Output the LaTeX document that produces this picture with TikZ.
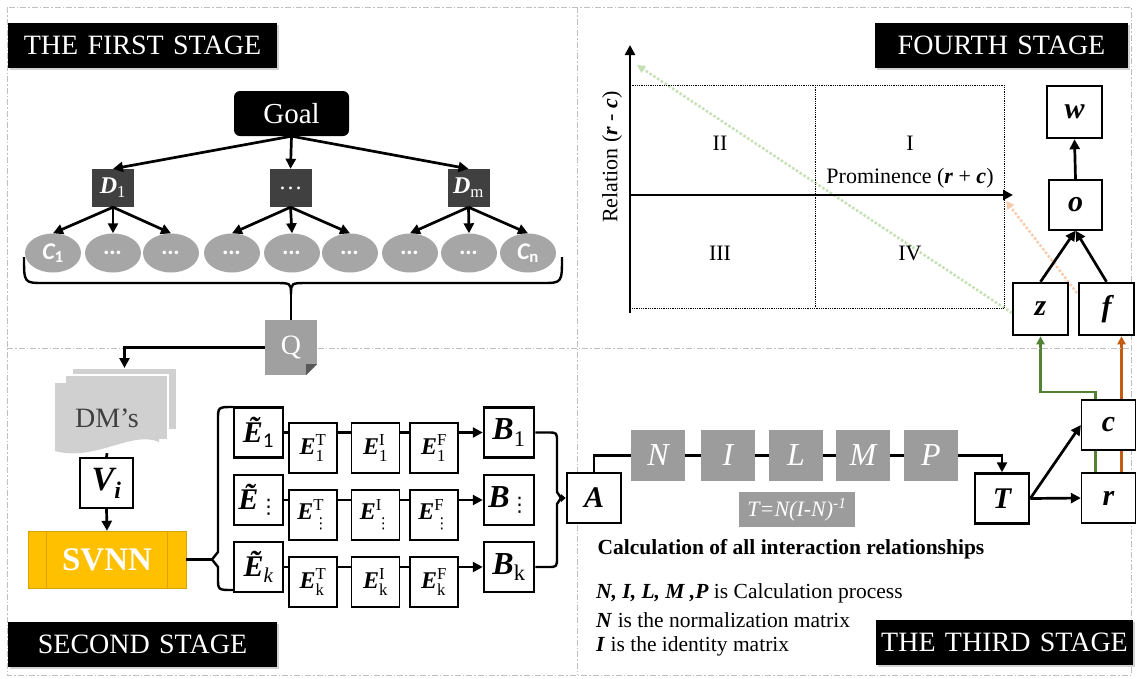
\documentclass[tikz,border=0pt]{standalone}
\usepackage{fontspec}
\setmainfont{Liberation Serif}
\newfontfamily\calib{Carlito}
\newfontfamily\dejavu{DejaVu Sans}
\usetikzlibrary{arrows.meta,shadows,backgrounds,shapes.geometric}
\newcommand\myfs[1]{\fontsize{#1}{#1}\selectfont}
\newcommand\mysub[1]{\textsubscript{#1}}
\newcommand\bi[1]{\textbf{\textit{#1}}}
\newcommand\vdsub{\mbox{\dejavu\myfs{20}\raisebox{-4pt}{⋮}}}
\newcommand\vdsubs{\mbox{\dejavu\myfs{15}\raisebox{-3pt}{⋮}}}
\definecolor{gold}{HTML}{FFC000}
\definecolor{golddark}{HTML}{D9A300}
\definecolor{dgray}{HTML}{404040}
\definecolor{egray}{HTML}{A6A6A6}
\definecolor{ngray}{HTML}{9C9C9C}
\definecolor{pgray}{HTML}{D0D0D0}
\definecolor{qgray}{HTML}{A0A0A0}
\definecolor{ggreen}{HTML}{548235}
\definecolor{gorange}{HTML}{C55A11}
\definecolor{lgreen}{HTML}{C5E0B4}
\definecolor{lorange}{HTML}{F8CBAD}
\definecolor{framec}{HTML}{BFBFBF}
\begin{document}
\begin{tikzpicture}[x=1pt,y=-1pt,
  frame/.style={framec, line width=1pt, dash pattern=on 6pt off 2pt on 1.5pt off 2pt},
  lbl/.style={fill=black, text=white, font={\myfs{28}}, inner xsep=0pt, inner ysep=0pt,
     minimum height=45pt, align=center, drop shadow={shadow xshift=2pt, shadow yshift=-2pt, opacity=0.35}},
  conn/.style={line width=2.7pt},
  arr/.style={conn, -{Triangle[length=10pt,width=10pt]}},
  box/.style={draw, fill=white, line width=1.3pt, inner sep=0pt, minimum width=54pt, minimum height=50pt, font={\myfs{30}\bfseries\itshape}},
  tbox/.style={box, line width=2.5pt},
  sbox/.style={box, minimum width=48pt, minimum height=50pt, font={\myfs{24}}},
  dnode/.style={fill=dgray, text=white, inner sep=0pt, minimum width=42pt, minimum height=38pt, font={\myfs{24}}},
  ell/.style={ellipse, fill=egray, text=white, inner sep=0pt, minimum width=56pt, minimum height=39pt, font={\calib\myfs{24}\bfseries\itshape}},
  nbox/.style={fill=ngray, text=white, inner sep=0pt, minimum width=54pt, minimum height=51pt, font={\myfs{32}\itshape}},
  txt/.style={font={\myfs{22}}, inner sep=0pt}
]
\useasboundingbox (0,0) rectangle (1137,678);
\begin{scope}[on background layer]
  \fill[white] (0,0) rectangle (1137,678);
\end{scope}

% frame
\draw[frame] (7,7) rectangle (1131,675);
\draw[frame] (7,348) -- (1131,348);
\draw[frame] (577,7) -- (577,675);

% stage labels
\node[lbl, text width=269pt] (L1) at (142.5,45.5) {THE FIRST STAGE};
\node[lbl, text width=253pt] (L4) at (1001.5,45.5) {FOURTH STAGE};
\node[lbl, text width=269pt] (L2) at (142.5,644) {SECOND STAGE};
\node[lbl, text width=257pt] (L3) at (1004.5,642.5) {THE THIRD STAGE};

% ---------- first stage ----------
\node[fill=black, rounded corners=6pt, text=white, minimum width=115pt, minimum height=45pt, font={\myfs{29}}] (goal) at (291.5,113.5) {Goal};
\node[dnode] (d1) at (113,188) {\bi{D}\mysub{1}};
\node[dnode] (dmid) at (290.5,188) {…};
\node[dnode] (dm) at (468.5,188) {\bi{D}\mysub{m}};
\draw[arr] (goal.south) -- (d1.north);
\draw[arr] (goal.south) -- (dmid.north);
\draw[arr] (goal.south) -- (dm.north);

\node[ell] (c1) at (53,253) {C\textsubscript{\upshape 1}};
\node[ell] (c2) at (113,253) {…};
\node[ell] (c3) at (171,253) {…};
\node[ell] (c4) at (232,253) {…};
\node[ell] (c5) at (292,253) {…};
\node[ell] (c6) at (350,253) {…};
\node[ell] (c7) at (410,253) {…};
\node[ell] (c8) at (469,253) {…};
\node[ell] (c9) at (528,253) {C\textsubscript{\upshape n}};
\draw[arr] (d1.south) -- (c1.north);
\draw[arr] (d1.south) -- (c2.north);
\draw[arr] (d1.south) -- (c3.north);
\draw[arr] (dmid.south) -- (c4.north);
\draw[arr] (dmid.south) -- (c5.north);
\draw[arr] (dmid.south) -- (c6.north);
\draw[arr] (dm.south) -- (c7.north);
\draw[arr] (dm.south) -- (c8.north);
\draw[arr] (dm.south) -- (c9.north);

% brace
\coordinate (btip) at (291,294);
\draw[conn, line width=2.4pt, line join=round] (24,257) .. controls (24,283) .. (44,283) -- (274,283) .. controls (291,283) .. (btip);
\draw[conn, line width=2.4pt, line join=round] (562,257) .. controls (562,283) .. (542,283) -- (308,283) .. controls (291,283) .. (btip);

% Q
\node[fill=qgray, text=white, minimum width=52pt, minimum height=55pt, inner sep=0pt, font={\myfs{28}}] (Q) at (291,347.5) {Q};
\fill[white] (317.5,375.5) -- (306,375.5) -- (317.5,364) -- cycle;
\fill[gray!70!black] (306,375) -- (317,364) -- (306,364) -- cycle;
\draw[conn] (btip) -- (Q.north);

% ---------- second stage ----------
\fill[pgray] (72,368) rectangle (177,430);
\draw[white, line width=1.5pt] (72,368) rectangle (177,430);
\fill[pgray] (65,375) rectangle (168,440);
\draw[white, line width=1.5pt] (65,375) rectangle (168,440);
\fill[pgray] (55,383) -- (159,383) -- (159,442) .. controls (132,430) and (95,462) .. (55,451) -- cycle;
\node[inner sep=0pt, minimum width=104pt, minimum height=70pt, text=dgray, font={\myfs{28}}] (dms) at (107,418) {DM’s};
\coordinate (dmtop) at (124.5,368);
\draw[arr] (Q.west) -| (dmtop);

\node[box, line width=1.5pt, minimum width=53pt, font={\myfs{34}\bfseries\itshape}] (vi) at (106.5,483) {V\textsubscript{i}};
\draw[conn] (dms.south) -- (vi.north);
\node[fill=gold, draw=golddark, minimum width=158pt, minimum height=57pt, inner sep=0pt, text=white, font={\myfs{33}\bfseries}] (svnn) at (107,559.5) {SVNN};
\draw[golddark, line width=1pt] ([xshift=19pt]svnn.north west) -- ([xshift=19pt]svnn.south west);
\draw[golddark, line width=1pt] ([xshift=-19pt]svnn.north east) -- ([xshift=-19pt]svnn.south east);
\draw[arr] (vi.south) -- (svnn.north);

% left bracket
\coordinate (lbtip) at (212,559.5);
\draw[conn, line width=2.4pt, line join=round] (233,407) .. controls (218,407) .. (218,420) -- (218,552) -- (lbtip) -- (218,567) -- (218,578) .. controls (218,590) .. (233,590);
\draw[conn] (svnn.east) -- (lbtip);

% E rows
\node[tbox, minimum width=49pt, font={\myfs{30}}] (et1) at (258.5,432.5) {\bi{Ẽ}\mysub{\calib 1}};
\node[tbox, minimum width=49pt, font={\myfs{30}}] (et2) at (258.5,500) {\bi{Ẽ}\vdsub};
\node[tbox, minimum width=49pt, font={\myfs{30}}] (et3) at (258.5,567) {\bi{Ẽ}\mysub{\itshape k}};

\node[sbox] (e1t) at (313,448) {$\bi{E}^{\mathrm{T}}_{\mathrm{1}}$};
\node[sbox] (e1i) at (375.5,448) {$\bi{E}^{\mathrm{I}}_{\mathrm{1}}$};
\node[sbox] (e1f) at (434,448) {$\bi{E}^{\mathrm{F}}_{\mathrm{1}}$};
\node[sbox] (e2t) at (313,515) {$\bi{E}^{\mathrm{T}}_{\vdsubs}$};
\node[sbox] (e2i) at (375.5,515) {$\bi{E}^{\mathrm{I}}_{\vdsubs}$};
\node[sbox] (e2f) at (434,515) {$\bi{E}^{\mathrm{F}}_{\vdsubs}$};
\node[sbox] (e3t) at (313,582) {$\bi{E}^{\mathrm{T}}_{\mathrm{k}}$};
\node[sbox] (e3i) at (375.5,582) {$\bi{E}^{\mathrm{I}}_{\mathrm{k}}$};
\node[sbox] (e3f) at (434,582) {$\bi{E}^{\mathrm{F}}_{\mathrm{k}}$};

\node[tbox, minimum width=50pt, font={\myfs{32}}] (b1) at (509,432.5) {\bi{B}\mysub{1}};
\node[tbox, minimum width=50pt, font={\myfs{32}}] (b2) at (509,500) {\bi{B}\vdsub};
\node[tbox, minimum width=50pt, font={\myfs{32}}] (b3) at (509,567) {\bi{B}\mysub{k}};

\begin{scope}[on background layer]
  \draw[arr] (et1.east) -- (b1.west);
  \draw[arr] (et2.east) -- (b2.west);
  \draw[arr] (et3.east) -- (b3.west);
\end{scope}

% right brace to A
\node[tbox] (a) at (594,498) {A};
\coordinate (rbtip) at (561,498);
\draw[conn, line width=2.4pt, line join=round] (b1.east) -- (548,432.5) .. controls (557,432.5) .. (557,442) -- (557,492) -- (rbtip);
\draw[conn, line width=2.4pt, line join=round] (b3.east) -- (548,567) .. controls (557,567) .. (557,557) -- (557,504) -- (rbtip);
\draw[conn, -{Triangle[length=5pt,width=8pt]}] (rbtip) -- (a.west);

% ---------- third stage ----------
\node[nbox] (n) at (658,455.5) {N};
\node[nbox] (i) at (728,455.5) {I};
\node[nbox] (l) at (796,455.5) {L};
\node[nbox] (m) at (863,455.5) {M};
\node[nbox] (p) at (931,455.5) {P};
\draw[conn] (a.north) |- (n.west);
\draw[conn] (n.east) -- (i.west);
\draw[conn] (i.east) -- (l.west);
\draw[conn] (l.east) -- (m.west);
\draw[conn] (m.east) -- (p.west);
\node[tbox] (t) at (1002,498.5) {T};
\draw[arr] (p.east) -| (t.north);
\node[nbox, minimum width=116pt, minimum height=35pt, font={\myfs{22}\itshape}] (form) at (797,509.5) {T=N(I-N)\textsuperscript{-1}};

\node[font={\myfs{21.5}\bfseries}, inner sep=0pt] (calc) at (791,549) {Calculation of all interaction relationships};
\node[anchor=west, font={\myfs{21.5}}, inner sep=0pt] (ex1) at (596,593) {\bi{N, I, L, M ,P} is Calculation process};
\node[anchor=west, font={\myfs{21.5}}, inner sep=0pt] (ex2) at (596,620) {\bi{N} is the normalization matrix};
\node[anchor=west, font={\myfs{21.5}}, inner sep=0pt] (ex3) at (596,646) {\bi{I} is the identity matrix};

\node[box] (c) at (1108.5,425) {c};
\node[box] (r) at (1108.5,498) {r};
\draw[arr] (t.east) -- (c.west);
\draw[arr] (t.east) -- (r.west);

% ---------- fourth stage ----------
\draw[lgreen, line width=2.5pt, dotted, -{Triangle[length=8pt,width=8pt]}] (1012,313) -- (637,65);
\draw[lorange, line width=2.5pt, dotted, -{Triangle[length=8pt,width=8pt]}] (1077,293) -- (1006,201);
\draw[line width=0.8pt, densely dotted] (630,85) rectangle (1004,308);
\draw[line width=0.8pt, densely dotted] (815,85) -- (815,308);
\draw[arr] (630,313) -- (630,45);
\draw[arr] (630,195) -- (1013,195);
\node[txt] (q2) at (720,143) {II};
\node[txt] (q1) at (910,143) {I};
\node[txt] (q3) at (720,253) {III};
\node[txt] (q4) at (910,253) {IV};
\node[txt] (xl) at (910,178) {Prominence (\bi{r} + \bi{c})};
\node[txt, rotate=90] (yl) at (612,157) {Relation (\bi{r} - \bi{c})};

\node[tbox, minimum width=55pt, minimum height=52pt] (w) at (1074.5,112) {w};
\node[box, minimum width=53pt] (o) at (1075.5,205) {o};
\node[tbox, minimum width=55pt, minimum height=52pt] (z) at (1040.5,309) {z};
\node[tbox, minimum width=55pt, minimum height=52pt] (f) at (1106.5,309) {f};
\draw[arr] (z.north) -- (o.south);
\draw[arr] (f.north) -- (o.south);
\draw[arr] (o.north) -- (w.south);

\coordinate (gturn) at (1095.5,392);
\begin{scope}[on background layer]
  \draw[ggreen, line width=2.4pt, -{Triangle[length=8pt,width=8pt]}] ([xshift=-13pt]r.north) -- (gturn) -| (z.south);
  \draw[gorange, line width=2.4pt, -{Triangle[length=8pt,width=8pt]}] ([xshift=13pt]r.north) -- ([xshift=13pt]r.north |- f.south);
\end{scope}
\end{tikzpicture}
\end{document}
